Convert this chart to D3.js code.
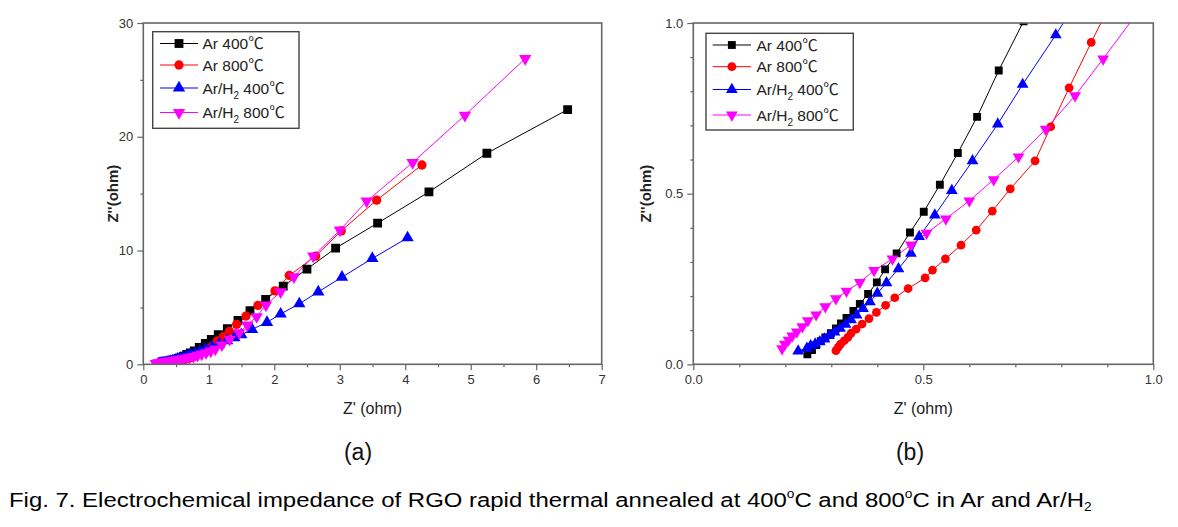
<!DOCTYPE html>
<html>
<head>
<meta charset="utf-8">
<script src="https://cdn.jsdelivr.net/npm/d3@7/dist/d3.min.js"></script>
<style>
  html, body { margin: 0; padding: 0; background: #fff; }
  svg { display: block; }
  text { font-family: "Liberation Sans", Arial, "Noto Sans CJK KR", sans-serif; }
</style>
</head>
<body>
<svg id="chart" width="1178" height="527"></svg>
<script>
// ---------------- DATA ----------------
const seriesNames = ["Ar 400", "Ar 800", "Ar/H2 400", "Ar/H2 800"];

const ar400X = [0.248,0.258,0.267,0.277,0.287,0.299,0.310,0.321,0.333,0.348,0.362,0.380,0.399,0.417,0.442,0.471,0.501,0.536,0.575,0.617,0.664,0.718,0.779,0.855,0.947,1.038,1.145,1.283,1.446,1.629,1.868,2.137,2.499,2.937,3.578,4.362,5.247,6.48];
const ar400Y = [0.029,0.042,0.056,0.068,0.079,0.091,0.105,0.120,0.136,0.156,0.177,0.206,0.240,0.278,0.325,0.386,0.447,0.526,0.619,0.725,0.861,1.005,1.17,1.49,1.84,2.19,2.6,3.13,3.86,4.71,5.71,6.87,8.37,10.21,12.41,15.15,18.55,22.39];

const ar800X = [0.310,0.315,0.320,0.328,0.336,0.343,0.354,0.367,0.382,0.398,0.418,0.438,0.467,0.504,0.520,0.548,0.582,0.615,0.650,0.689,0.743,0.777,0.817,0.865,0.93,0.995,1.06,1.130,1.221,1.313,1.426,1.568,1.751,2.011,2.229,2.632,3.023,3.563,4.255];
const ar800Y = [0.040,0.050,0.059,0.069,0.079,0.091,0.103,0.118,0.134,0.152,0.173,0.195,0.222,0.253,0.276,0.309,0.349,0.393,0.449,0.514,0.596,0.696,0.810,0.943,1.12,1.35,1.65,2.05,2.42,2.90,3.51,4.24,5.18,6.46,7.81,9.51,11.73,14.43,17.52];

const arh400X = [0.228,0.247,0.255,0.265,0.275,0.285,0.295,0.307,0.319,0.331,0.343,0.355,0.369,0.384,0.400,0.420,0.446,0.473,0.491,0.525,0.562,0.607,0.662,0.716,0.788,0.865,0.95,1.05,1.16,1.28,1.39,1.496,1.660,1.889,2.097,2.382,2.672,3.034,3.497,4.036];
const arh400Y = [0.039,0.047,0.054,0.059,0.066,0.074,0.084,0.094,0.105,0.117,0.130,0.144,0.163,0.183,0.208,0.239,0.280,0.325,0.374,0.437,0.509,0.596,0.704,0.820,0.965,1.13,1.32,1.55,1.80,2.07,2.33,2.60,3.07,3.69,4.42,5.32,6.37,7.66,9.30,11.12];

const arh800X = [0.193,0.199,0.207,0.215,0.225,0.237,0.249,0.267,0.287,0.310,0.333,0.362,0.393,0.433,0.473,0.507,0.549,0.600,0.653,0.707,0.766,0.830,0.891,0.96,1.03,1.10,1.20,1.32,1.466,1.588,1.731,1.873,2.097,2.301,2.595,3.003,3.411,4.113,4.911,5.832];
const arh800Y = [0.046,0.059,0.071,0.083,0.095,0.110,0.128,0.145,0.169,0.192,0.214,0.240,0.275,0.309,0.350,0.384,0.426,0.479,0.541,0.608,0.689,0.787,0.895,1.02,1.16,1.34,1.70,2.19,2.77,3.45,4.18,5.21,6.37,7.69,9.51,11.79,14.34,17.73,21.89,26.87];

// tick values
const xTicksA = [0,1,2,3,4,5,6,7];
const xMinorA = [0.5,1.5,2.5,3.5,4.5,5.5,6.5];
const yTicksA = [0,10,20,30];
const yMinorA = [5,15,25];
const xTicksB = [0,0.5,1.0];
const xMinorB = [0.1,0.2,0.3,0.4,0.6,0.7,0.8,0.9];
const yTicksB = [0,0.5,1.0];
const yMinorB = [0.1,0.2,0.3,0.4,0.6,0.7,0.8,0.9];

const seriesColors = ["#000000", "#ff0000", "#0000ff", "#ff00ff"];
const seriesSymbols = ["square", "circle", "up", "down"];

// ---------------- BUILD ----------------
const series = [
  {name: seriesNames[0], xs: ar400X, ys: ar400Y},
  {name: seriesNames[1], xs: ar800X, ys: ar800Y},
  {name: seriesNames[2], xs: arh400X, ys: arh400Y},
  {name: seriesNames[3], xs: arh800X, ys: arh800Y}
].map((s, i) => ({
  ...s,
  color: seriesColors[i],
  sym: seriesSymbols[i],
  pts: s.xs.map((x, j) => ({x, y: s.ys[j]}))
}));

const svg = d3.select("#chart");
const axisColor = "#666";

function symbolPath(kind, size) {
  if (kind === "square") return d3.symbol(d3.symbolSquare, size)();
  if (kind === "circle") return d3.symbol(d3.symbolCircle, size)();
  return d3.symbol(d3.symbolTriangle, size)();
}

function drawMarker(sel, kind, color, size) {
  sel.append("path")
    .attr("d", symbolPath(kind, size))
    .attr("transform", kind === "down" ? "rotate(180)" : null)
    .attr("fill", color)
    .attr("stroke", "none");
}

function legendLabel(text, name) {
  const parts = name.split("/H2");
  if (parts.length === 2) {
    text.append("tspan").text(parts[0] + "/H");
    text.append("tspan").attr("font-size", "10px").attr("dy", 5).text("2");
    text.append("tspan").attr("dy", -5).text(parts[1] + "\u2103");
  } else {
    text.text(name + "\u2103");
  }
}

function drawPanel(cfg) {
  const {left, top, right, bottom, xDomain, yDomain, xTicks, xMinor, yTicks, yMinor, fmt, id, markerSize, legend, yTitleX, label} = cfg;
  const x = d3.scaleLinear().domain(xDomain).range([left, right]);
  const y = d3.scaleLinear().domain(yDomain).range([bottom, top]);
  const g = svg.append("g");

  g.append("clipPath").attr("id", id)
    .append("rect").attr("x", left).attr("y", top)
    .attr("width", right - left).attr("height", bottom - top);

  // data
  const plot = g.append("g").attr("clip-path", `url(#${id})`);
  const line = d3.line().x(d => x(d.x)).y(d => y(d.y));
  series.forEach(s => {
    plot.append("path").datum(s.pts)
      .attr("d", line).attr("fill", "none")
      .attr("stroke", s.color).attr("stroke-width", 1);
  });
  series.forEach(s => {
    const gg = plot.append("g");
    s.pts.forEach(p => {
      const m = gg.append("g").attr("transform", `translate(${x(p.x)},${y(p.y)})`);
      drawMarker(m, s.sym, s.color, markerSize[s.sym]);
    });
  });

  // minor ticks
  const xMinAx = g.append("g").attr("transform", `translate(0,${bottom})`)
    .call(d3.axisBottom(x).tickValues(xMinor).tickSize(3).tickFormat(""));
  const yMinAx = g.append("g").attr("transform", `translate(${left},0)`)
    .call(d3.axisLeft(y).tickValues(yMinor).tickSize(3).tickFormat(""));
  // major
  const xAx = g.append("g").attr("transform", `translate(0,${bottom})`)
    .call(d3.axisBottom(x).tickValues(xTicks).tickSize(6).tickPadding(4).tickFormat(fmt));
  const yAx = g.append("g").attr("transform", `translate(${left},0)`)
    .call(d3.axisLeft(y).tickValues(yTicks).tickSize(6).tickPadding(4).tickFormat(fmt));
  [xMinAx, yMinAx, xAx, yAx].forEach(a => {
    a.select(".domain").remove();
    a.selectAll("line").attr("stroke", axisColor).attr("stroke-width", 1.2);
    a.selectAll("text").attr("fill", "#333").attr("font-size", "13px")
      .attr("font-family", "'Liberation Sans', Arial, sans-serif");
  });

  // frame
  g.append("rect").attr("x", left).attr("y", top)
    .attr("width", right - left).attr("height", bottom - top)
    .attr("fill", "none").attr("stroke", axisColor).attr("stroke-width", 1.6);

  // axis titles
  g.append("text").attr("x", (left + right) / 2).attr("y", bottom + 50)
    .attr("text-anchor", "middle").attr("font-size", "16px").attr("fill", "#222")
    .text("Z' (ohm)");
  g.append("text").attr("transform", `translate(${yTitleX},${(top + bottom) / 2}) rotate(-90)`)
    .attr("text-anchor", "middle").attr("font-size", "15px").attr("font-weight", "bold").attr("fill", "#222")
    .text("Z''(ohm)");

  // panel label
  g.append("text").attr("x", label.x).attr("y", label.y)
    .attr("text-anchor", "middle").attr("font-size", "23px").attr("fill", "#111")
    .attr("font-family", "'Open Sans', 'Noto Sans', sans-serif")
    .text(label.text);

  // legend
  const lg = g.append("g");
  lg.append("rect").attr("x", legend.x0).attr("y", legend.y0)
    .attr("width", legend.x1 - legend.x0).attr("height", legend.y1 - legend.y0)
    .attr("fill", "#fff").attr("stroke", "#444").attr("stroke-width", 1.4);
  series.forEach((s, i) => {
    const yy = legend.rows[i];
    lg.append("line").attr("x1", legend.lx0).attr("x2", legend.lx1)
      .attr("y1", yy).attr("y2", yy).attr("stroke", s.color).attr("stroke-width", 1);
    const m = lg.append("g").attr("transform", `translate(${(legend.lx0 + legend.lx1) / 2},${yy})`);
    drawMarker(m, s.sym, s.color, markerSize[s.sym]);
    const t = lg.append("text").attr("x", legend.tx).attr("y", yy + 5.5)
      .attr("font-size", "15.5px").attr("fill", "#222");
    legendLabel(t, s.name);
  });
}

drawPanel({
  id: "clipA", left: 143.3, top: 23, right: 601.7, bottom: 364.3,
  xDomain: [0, 7], yDomain: [0, 30],
  xTicks: xTicksA, xMinor: xMinorA, yTicks: yTicksA, yMinor: yMinorA,
  fmt: d3.format("d"),
  markerSize: {square: 78, circle: 68, up: 66, down: 66},
  yTitleX: 118,
  label: {x: 358, y: 460, text: "(a)"},
  legend: {x0: 152.7, y0: 31.7, x1: 299, y1: 128.3, lx0: 160, lx1: 198, tx: 202.5,
           rows: [43.5, 65, 88, 112.5]}
});

drawPanel({
  id: "clipB", left: 693.3, top: 23, right: 1153.3, bottom: 364.3,
  xDomain: [0, 1], yDomain: [0, 1],
  xTicks: xTicksB, xMinor: xMinorB, yTicks: yTicksB, yMinor: yMinorB,
  fmt: d3.format(".1f"),
  markerSize: {square: 62, circle: 60, up: 60, down: 60},
  yTitleX: 651,
  label: {x: 910, y: 460, text: "(b)"},
  legend: {x0: 706, y0: 33.3, x1: 853.3, y1: 130, lx0: 712.7, lx1: 751, tx: 756.5,
           rows: [45, 66.7, 89.5, 115]}
});

// caption
const cap = svg.append("text").attr("transform", "translate(9,507) scale(1.14,1)")
  .attr("font-size", "21px").attr("fill", "#000")
  .attr("font-family", "'Liberation Sans', Arial, sans-serif");
cap.append("tspan").text("Fig. 7. Electrochemical impedance of RGO rapid thermal annealed at 400");
cap.append("tspan").attr("font-size", "12px").attr("dy", -9).text("o");
cap.append("tspan").attr("dy", 9).text("C and 800");
cap.append("tspan").attr("font-size", "12px").attr("dy", -9).text("o");
cap.append("tspan").attr("dy", 9).text("C in Ar and Ar/H");
cap.append("tspan").attr("font-size", "12px").attr("dy", 4).text("2");
</script>
</body>
</html>
